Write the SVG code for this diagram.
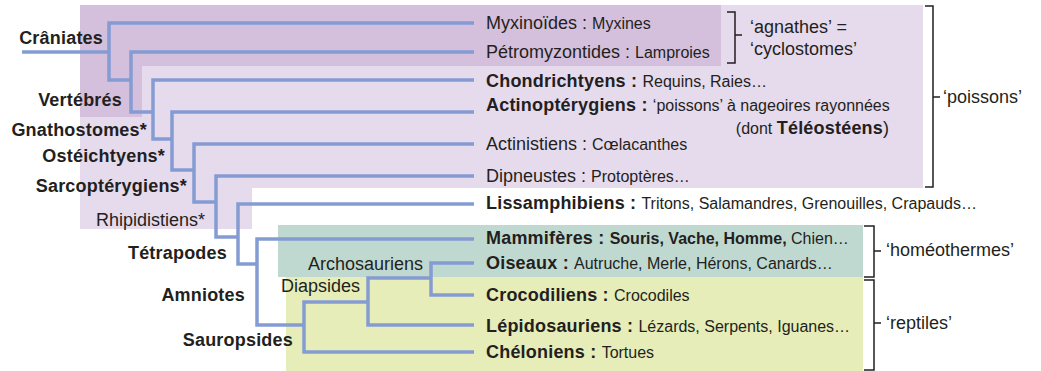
<svg xmlns="http://www.w3.org/2000/svg" width="1041" height="371" viewBox="0 0 1041 371">
<style>
text{font-family:"Liberation Sans",Arial,Helvetica,sans-serif;fill:#231f20}
.m{font-size:18px;font-weight:normal}
.b{font-size:18px;font-weight:bold;letter-spacing:0.2px}
.s{font-size:16px;font-weight:normal}
.sb{font-size:16px;font-weight:bold}
.tree{fill:none;stroke:#859cd3;stroke-width:3.5;stroke-linejoin:miter;stroke-linecap:butt}
.br{fill:none;stroke:#231f20;stroke-width:1.5}
</style>
<rect width="1041" height="371" fill="#ffffff"/>
<g id="backgrounds">
<polygon points="80,5 923,5 923,188 252,188 252,229 80,229" fill="#e6daed"/>
<polygon points="80,5 721,5 721,66 142,66 142,117 80,117" fill="#d4bfdc"/>
<rect x="278" y="225" width="585" height="52" fill="#bfd9d0"/>
<rect x="286" y="277" width="577" height="94" fill="#e6edb9"/>
</g>
<g id="connectors">
<path class="tree" d="M22 52 H109"/>
<path class="tree" d="M474 23 H109 V80 H131"/>
<path class="tree" d="M474 52 H131 V112 H153"/>
<path class="tree" d="M474 80 H153 V139 H172"/>
<path class="tree" d="M474 112 H172 V170 H194"/>
<path class="tree" d="M474 144 H194 V202 H216"/>
<path class="tree" d="M474 176 H216 V237 H238"/>
<path class="tree" d="M474 204 H238 V264 H257"/>
<path class="tree" d="M474 239 H257 V325 H304"/>
<path class="tree" d="M368 302 H304 V352 H474"/>
<path class="tree" d="M431 278 H368 V325 H474"/>
<path class="tree" d="M474 263 H431 V295 H474"/>
</g>
<g id="brackets">
<path class="br" d="M727 12 H735 V63 H727 M735 35 H742"/>
<path class="br" d="M925 6 H933 V187 H925 M933 97 H940"/>
<path class="br" d="M864 226 H874 V277 H864 M874 251 H881"/>
<path class="br" d="M864 280 H874 V370 H864 M874 323 H881"/>
</g>
<g id="clade-labels">
<text id="craniates" class="b" x="103" y="44" text-anchor="end">Crâniates</text>
<text id="vertebres" class="b" x="122" y="106" text-anchor="end">Vertébrés</text>
<text id="gnathostomes" class="b" x="147" y="136" text-anchor="end">Gnathostomes*</text>
<text id="osteichtyens" class="b" x="165" y="162" text-anchor="end">Ostéichtyens*</text>
<text id="sarcopterygiens" class="b" x="187" y="192" text-anchor="end">Sarcoptérygiens*</text>
<text id="rhipidistiens" class="m" x="205" y="226" text-anchor="end">Rhipidistiens*</text>
<text id="tetrapodes" class="b" x="227" y="259" text-anchor="end">Tétrapodes</text>
<text id="amniotes" class="b" x="245" y="301" text-anchor="end">Amniotes</text>
<text id="sauropsides" class="b" x="293" y="346" text-anchor="end">Sauropsides</text>
<text id="archosauriens" class="m" x="423" y="270" text-anchor="end">Archosauriens</text>
<text id="diapsides" class="m" x="360" y="292" text-anchor="end">Diapsides</text>
</g>
<g id="leaves">
<g id="myxinoides"><text x="486" y="29"><tspan class="m">Myxinoïdes : </tspan><tspan class="s">Myxines</tspan></text></g>
<g id="petromyzontides"><text x="486" y="58"><tspan class="m">Pétromyzontides : </tspan><tspan class="s">Lamproies</tspan></text></g>
<g id="chondrichtyens"><text x="486" y="87"><tspan class="b">Chondrichtyens : </tspan><tspan class="s">Requins, Raies…</tspan></text></g>
<g id="actinopterygiens"><text x="486" y="111"><tspan class="b">Actinoptérygiens : </tspan><tspan class="s">‘poissons’ à nageoires rayonnées</tspan></text>
<text x="889" y="134" text-anchor="end"><tspan class="s">(dont </tspan><tspan class="b">Téléostéens</tspan><tspan class="m">)</tspan></text></g>
<g id="actinistiens"><text x="486" y="150"><tspan class="m">Actinistiens : </tspan><tspan class="s">Cœlacanthes</tspan></text></g>
<g id="dipneustes"><text x="486" y="182"><tspan class="m">Dipneustes : </tspan><tspan class="s">Protoptères…</tspan></text></g>
<g id="lissamphibiens"><text x="486" y="209"><tspan class="b">Lissamphibiens : </tspan><tspan class="s">Tritons, Salamandres, Grenouilles, Crapauds…</tspan></text></g>
<g id="mammiferes"><text x="486" y="244"><tspan class="b">Mammifères : </tspan><tspan class="sb">Souris, Vache, Homme,</tspan><tspan class="s"> Chien…</tspan></text></g>
<g id="oiseaux"><text x="486" y="269"><tspan class="b">Oiseaux : </tspan><tspan class="s">Autruche, Merle, Hérons, Canards…</tspan></text></g>
<g id="crocodiliens"><text x="486" y="301"><tspan class="b">Crocodiliens : </tspan><tspan class="s">Crocodiles</tspan></text></g>
<g id="lepidosauriens"><text x="486" y="332"><tspan class="b">Lépidosauriens : </tspan><tspan class="s">Lézards, Serpents, Iguanes…</tspan></text></g>
<g id="cheloniens"><text x="486" y="358"><tspan class="b">Chéloniens : </tspan><tspan class="s">Tortues</tspan></text></g>
</g>
<g id="group-labels">
<text id="agnathes" class="m" x="750" y="33">‘agnathes’ =</text>
<text id="cyclostomes" class="m" x="750" y="55">‘cyclostomes’</text>
<text id="poissons" class="m" x="943" y="103">‘poissons’</text>
<text id="homeothermes" class="m" x="886" y="256">‘homéothermes’</text>
<text id="reptiles" class="m" x="886" y="329">‘reptiles’</text>
</g>
</svg>
